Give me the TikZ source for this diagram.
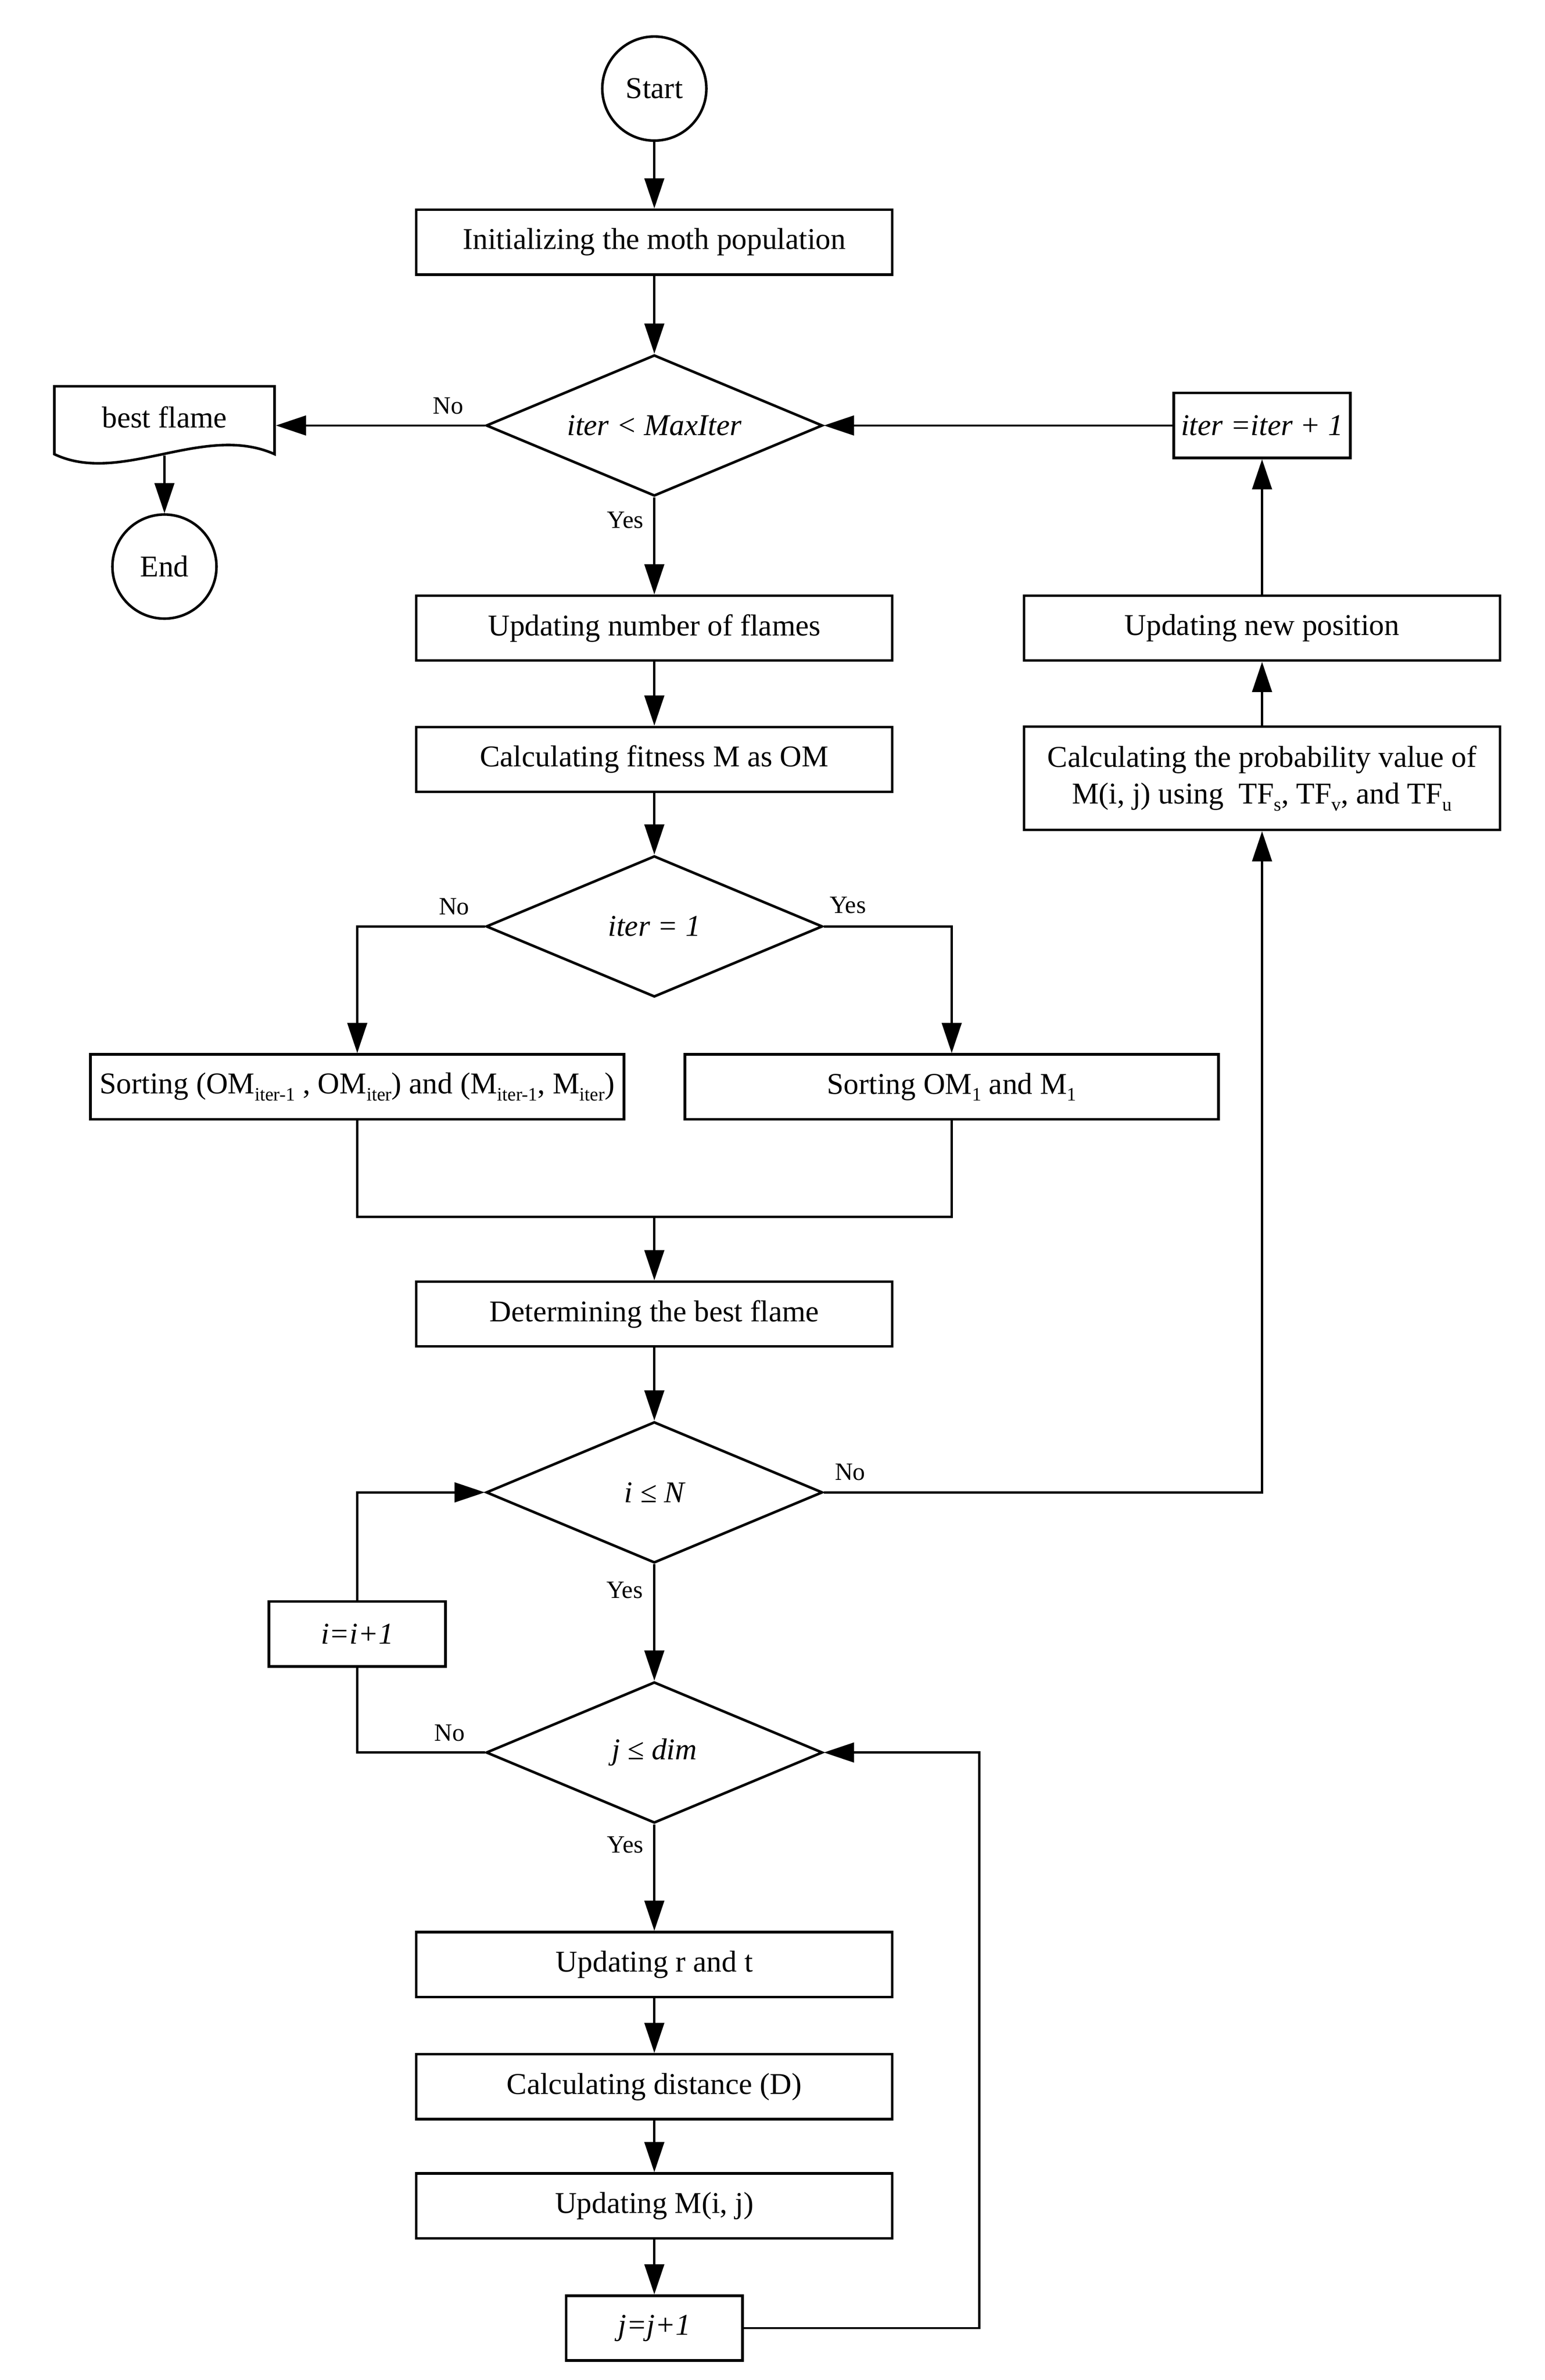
\documentclass[tikz,border=0pt]{standalone}
\usepackage{fontspec}
\setmainfont{Liberation Serif}
\usetikzlibrary{arrows.meta,shapes.geometric}
\newcommand{\mainfs}{\fontsize{20}{24.5}\selectfont}
\newcommand{\lblfs}{\fontsize{16.5}{18}\selectfont}
\newcommand{\sbs}[1]{\raisebox{-4.5pt}{\fontsize{12.5}{12.5}\selectfont #1}}
\tikzset{
  outl/.style={draw, line width=1.7pt},
  box/.style={outl, rectangle, minimum width=315.5pt, minimum height=43pt, inner sep=0pt, font=\mainfs},
  sbox/.style={outl, rectangle, minimum width=117pt, minimum height=43pt, inner sep=0pt, font=\mainfs},
  dec/.style={outl, diamond, aspect=2.37, minimum width=223pt, minimum height=93.5pt, inner sep=0pt, font=\mainfs},
  term/.style={outl, circle, minimum size=69pt, inner sep=0pt, font=\mainfs},
  docbox/.style={rectangle, minimum width=146pt, minimum height=45pt, inner sep=0pt, outer sep=0.85pt, font=\mainfs},
  lbl/.style={inner sep=0pt, font=\lblfs},
  ln/.style={line width=1.5pt},
  arr/.style={ln, -{Triangle[length=20pt,width=13pt]}}
}
\begin{document}
\begin{tikzpicture}[x=1pt,y=-1pt]
\useasboundingbox (0,0) rectangle (1024,1577.4);

% nodes
\node[term] (start) at (433.7,58.7) {Start};
\node[box] (init) at (433.7,160.5) {Initializing the moth population};
\node[dec] (d1) at (433.7,282) {\itshape iter < MaxIter};
\node[docbox] (bf) at (109,278.5) {\raisebox{4pt}{best flame}};
\draw[outl] (36,301) -- (36,256) -- (182,256) -- (182,301)
  .. controls (135,280) and (80,322) .. (36,301) -- cycle;
\node[term] (end) at (109,375.5) {End};
\node[sbox] (itb) at (836.5,282) {\itshape iter =iter + 1};
\node[box] (unf) at (433.7,416.3) {Updating number of flames};
\node[box] (cf) at (433.7,503.3) {Calculating fitness M as OM};
\node[box] (unp) at (836.5,416.3) {Updating new position};
\node[box, minimum height=68.5pt, align=center] (prob) at (836.5,515.8)
  {Calculating the probability value of\\ M(i, j) using\ \ TF\sbs{s}, TF\sbs{v}, and TF\sbs{u}};
\node[dec] (d2) at (433.7,614) {\itshape iter = 1};
\node[box, minimum width=353.6pt] (sl) at (236.8,720.3)
  {Sorting (OM\sbs{iter-1} , OM\sbs{iter}) and (M\sbs{iter-1}, M\sbs{iter})};
\node[box, minimum width=353.6pt] (sr) at (630.8,720.3) {Sorting OM\sbs{1} and M\sbs{1}};
\coordinate (jn) at (433.7,806.4);
\node[box] (det) at (433.7,870.9) {Determining the best flame};
\node[dec] (d3) at (433.7,989.1) {\itshape i ≤ N};
\node[sbox] (ib) at (236.8,1083) {\itshape i=i+1};
\node[dec] (d4) at (433.7,1161.5) {\itshape j ≤ dim};
\node[box] (urt) at (433.7,1302) {Updating r and t};
\node[box] (cd) at (433.7,1383) {Calculating distance (D)};
\node[box] (um) at (433.7,1462) {Updating M(i, j)};
\node[sbox] (jb) at (433.7,1543) {\itshape j=j+1};
\coordinate (jr) at (649,1543);

% connectors
\draw[arr] (start) -- (init);
\draw[arr] (init) -- (d1);
\draw[arr] (d1.west) -- (d1.west -| bf.east);
\draw[arr] (bf.south) -- (end);
\draw[arr] (d1.south) -- (unf.north);
\draw[arr] (unf) -- (cf);
\draw[arr] (cf) -- (d2);
\draw[arr] (d2.west) -| (sl.north);
\draw[arr] (d2.east) -| (sr.north);
\draw[ln] (sl.south) |- (jn) -| (sr.south);
\draw[arr] (jn) -- (det.north);
\draw[arr] (det) -- (d3);
\draw[arr] (d3.east) -| (prob.south);
\draw[arr] (prob) -- (unp);
\draw[arr] (unp) -- (itb);
\draw[arr] (itb.west) -- (d1.east);
\draw[arr] (d3.south) -- (d4.north);
\draw[ln] (d4.west) -| (ib.south);
\draw[arr] (ib.north) |- (d3.west);
\draw[arr] (d4.south) -- (urt.north);
\draw[arr] (urt) -- (cd);
\draw[arr] (cd) -- (um);
\draw[arr] (um) -- (jb);
\draw[arr] (jb.east) -- (jr) |- (d4.east);

% labels
\node[lbl] (l1) at (297,269) {No};
\node[lbl] (l2) at (414.5,344.6) {Yes};
\node[lbl] (l3) at (301,601) {No};
\node[lbl] (l4) at (562,600) {Yes};
\node[lbl] (l5) at (563.5,975.5) {No};
\node[lbl] (l6) at (414,1054) {Yes};
\node[lbl] (l7) at (298,1148.5) {No};
\node[lbl] (l8) at (414.5,1222.7) {Yes};
\end{tikzpicture}
\end{document}
